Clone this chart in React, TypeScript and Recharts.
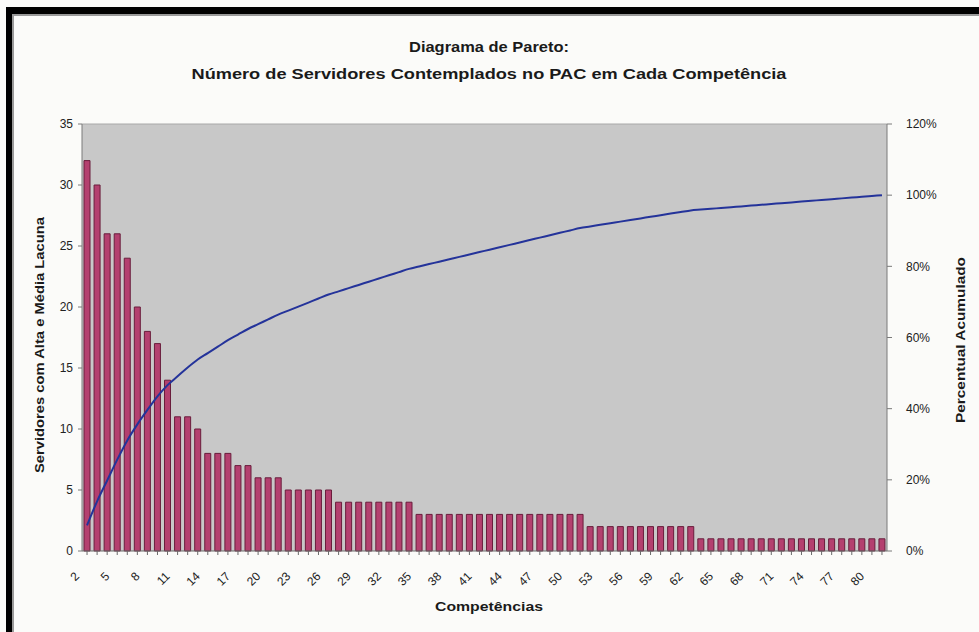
import React from 'react';
import { ComposedChart, Bar, Line, XAxis, YAxis, CartesianGrid, ReferenceLine } from 'recharts';

// competência ids shown on the category axis
const competencias = [
  2, 3, 4, 5, 6, 7, 8, 9, 10, 11, 12, 13, 14, 15, 16, 17, 18, 19, 20, 21,
  22, 23, 24, 25, 26, 27, 28, 29, 30, 31, 32, 33, 34, 35, 36, 37, 38, 39, 40, 41,
  42, 43, 44, 45, 46, 47, 48, 49, 50, 51, 52, 53, 54, 55, 56, 57, 58, 59, 60, 61,
  62, 63, 64, 65, 66, 67, 68, 69, 70, 71, 72, 73, 74, 75, 76, 77, 78, 79, 80, 81,
];

// servidores com alta e média lacuna, per competência (sorted, pareto style)
const servidores = [
  32, 30, 26, 26, 24, 20, 18, 17, 14, 11, 11, 10, 8, 8, 8, 7, 7, 6, 6, 6,
  5, 5, 5, 5, 5, 4, 4, 4, 4, 4, 4, 4, 4, 3, 3, 3, 3, 3, 3, 3,
  3, 3, 3, 3, 3, 3, 3, 3, 3, 3, 2, 2, 2, 2, 2, 2, 2, 2, 2, 2,
  2, 1, 1, 1, 1, 1, 1, 1, 1, 1, 1, 1, 1, 1, 1, 1, 1, 1, 1, 1,
];

const leftTicks = [0, 5, 10, 15, 20, 25, 30, 35];
const rightTicks = [0, 20, 40, 60, 80, 100, 120];

const total = servidores.reduce((s, v) => s + v, 0);
let running = 0;
const data = competencias.map((c, i) => {
  running += servidores[i];
  return { comp: c, servidores: servidores[i], acumulado: (running / total) * 100 };
});

const FONT = '"Liberation Sans", Arial, sans-serif';

const XTick = (props: any) => {
  const { x, y, payload, index } = props;
  if (index % 3 !== 0) return null;
  const ax = x - 7;
  const ay = y + 20;
  return (
    <text
      x={ax}
      y={ay}
      textAnchor="end"
      transform={`rotate(-45, ${ax}, ${ay})`}
      fontSize={12}
      fontFamily={FONT}
      fill="#222"
    >
      {payload.value}
    </text>
  );
};

export default function App() {
  return (
    <div style={{ position: 'absolute', left: 0, top: 0, width: 979, height: 632, background: '#fbfbf9', overflow: 'hidden' }}>
      {/* frame of the original picture */}
      <div style={{ position: 'absolute', left: 6, top: 7, width: 973, height: 7, background: '#000' }} />
      <div style={{ position: 'absolute', left: 6, top: 7, width: 6, height: 625, background: '#000' }} />
      <div style={{ position: 'absolute', left: 12, top: 14, width: 967, height: 2, background: '#9a9a9a' }} />
      <div style={{ position: 'absolute', left: 12, top: 14, width: 2, height: 618, background: '#9a9a9a' }} />

      <div style={{ position: 'absolute', left: 0, top: 0 }}>
        <ComposedChart
          width={979}
          height={632}
          data={data}
          margin={{ top: 124, right: 0, bottom: 0, left: 0 }}
          barCategoryGap="40%"
        >
          <CartesianGrid horizontal={false} vertical={false} fill="#c8c8c8" />
          <XAxis
            dataKey="comp"
            xAxisId="x"
            height={81}
            interval={0}
            tick={<XTick />}
            tickSize={4}
            tickMargin={2}
            stroke="#6a6a6a"
          />
          <YAxis
            yAxisId="left"
            width={82}
            domain={[0, 35]}
            ticks={leftTicks}
            tickSize={4}
            tickMargin={5}
            stroke="#7a7a7a"
            tick={{ fontSize: 12, fill: '#222', fontFamily: FONT }}
          />
          <YAxis
            yAxisId="right"
            orientation="right"
            width={92}
            domain={[0, 120]}
            ticks={rightTicks}
            tickFormatter={(v: number) => `${v}%`}
            tickSize={5}
            tickMargin={14}
            stroke="#7a7a7a"
            tick={{ fontSize: 12, fill: '#222', fontFamily: FONT, textAnchor: 'start' }}
          />
          <ReferenceLine yAxisId="left" xAxisId="x" y={35} stroke="#a8a8a8" />
          <Bar
            dataKey="servidores"
            xAxisId="x"
            yAxisId="left"
            fill="#b4406f"
            stroke="#6a1d3c"
            strokeWidth={1}
            barSize={6}
            isAnimationActive={false}
          />
          <Line
            dataKey="acumulado"
            xAxisId="x"
            yAxisId="right"
            type="monotone"
            stroke="#24339a"
            strokeWidth={2}
            dot={false}
            isAnimationActive={false}
          />
        </ComposedChart>
      </div>

      <svg width={979} height={632} style={{ position: 'absolute', left: 0, top: 0, pointerEvents: 'none' }}>
        <g fontFamily={FONT} fontWeight="bold" fill="#1a1a1a">
          <text x={489} y={52} textAnchor="middle" fontSize={15} textLength={160} lengthAdjust="spacingAndGlyphs">
            Diagrama de Pareto:
          </text>
          <text x={489} y={79} textAnchor="middle" fontSize={15} textLength={595} lengthAdjust="spacingAndGlyphs">
            Número de Servidores Contemplados no PAC em Cada Competência
          </text>
          <text x={489} y={611} textAnchor="middle" fontSize={13} textLength={108} lengthAdjust="spacingAndGlyphs">
            Competências
          </text>
          <text
            x={0}
            y={0}
            textAnchor="middle"
            fontSize={13}
            textLength={256}
            lengthAdjust="spacingAndGlyphs"
            transform="translate(44, 345) rotate(-90)"
          >
            Servidores com Alta e Média Lacuna
          </text>
          <text
            x={0}
            y={0}
            textAnchor="middle"
            fontSize={13}
            textLength={166}
            lengthAdjust="spacingAndGlyphs"
            transform="translate(965, 340) rotate(-90)"
          >
            Percentual Acumulado
          </text>
        </g>
      </svg>
    </div>
  );
}
